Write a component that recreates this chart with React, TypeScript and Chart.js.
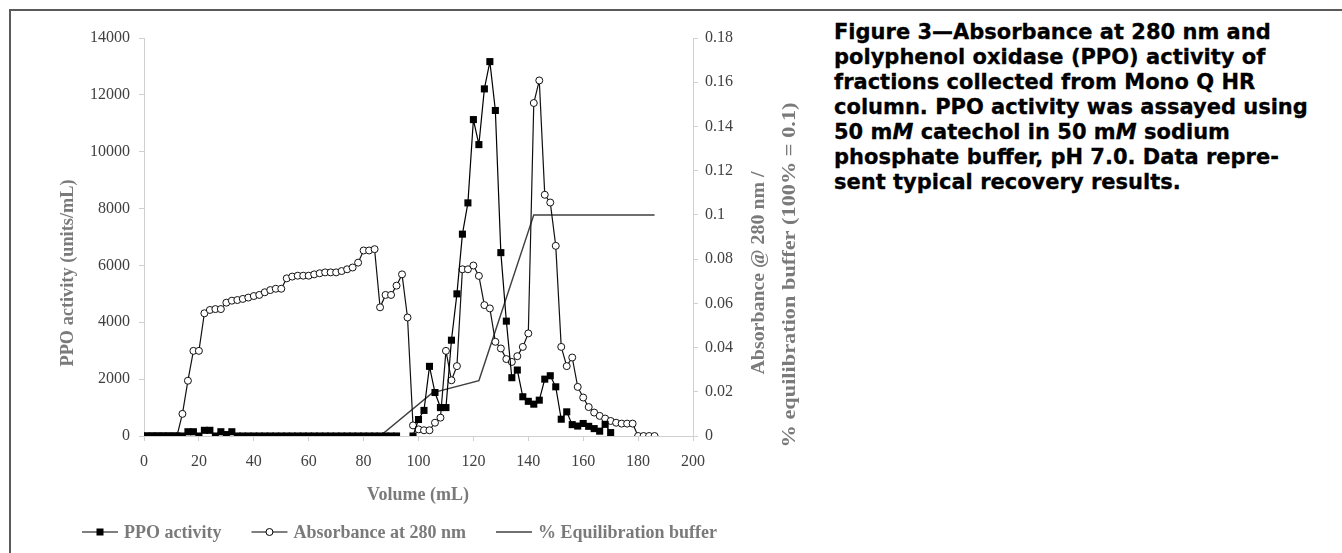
import React, { useEffect, useRef } from "react";
import { Chart, registerables } from "chart.js";

Chart.register(...registerables);

// ---- Data ----
const ppoVolume = [
  0, 2, 4, 6, 8, 10, 12, 14, 16, 18, 20, 22, 24, 26, 28, 30, 32, 34, 36, 38, 40, 42, 44, 46,
  48, 50, 52, 54, 56, 58, 60, 62, 64, 66, 68, 70, 72, 74, 76, 78, 80, 82, 84, 86, 88, 90, 92,
  94, 96,
  98, 100, 102, 104, 106, 108, 110, 112, 114, 116, 118, 120, 122, 124, 126, 128, 130, 132,
  134, 136, 138, 140, 142, 144, 146, 148, 150, 152, 154, 156, 158, 160, 162, 164, 166, 168, 170,
];
const ppoActivity = [
  0, 0, 0, 0, 0, 0, 0, 0, 150, 150, 0, 200, 200, 0, 150, 50, 150, 0, 0, 0, 0, 0, 0, 0,
  0, 0, 0, 0, 0, 0, 0, 0, 0, 0, 0, 0, 0, 0, 0, 0, 0, 0, 0, 0, 0, 0, 0,
  null, null,
  0, 580, 900, 2450, 1530, 1000, 1000, 3370, 5000, 7100, 8200, 11130, 10250, 12210, 13170, 11450,
  6450, 4040, 2050, 2320, 1380, 1220, 1120, 1260, 2000, 2120, 1730, 590, 850, 400, 350, 440,
  340, 260, 170, 410, 120,
];

const absVolume = [
  0, 2, 4, 6, 8, 10, 12, 14, 16, 18, 20, 22, 24, 26, 28, 30, 32, 34, 36, 38, 40, 42, 44, 46,
  48, 50, 52, 54, 56, 58, 60, 62, 64, 66, 68, 70, 72, 74, 76, 78, 80, 82, 84, 86, 88, 90, 92,
  94, 96, 98, 100, 102, 104, 106, 108, 110, 112, 114, 116, 118, 120, 122, 124, 126, 128, 130,
  132, 134, 136, 138, 140, 142, 144, 146, 148, 150, 152, 154, 156, 158, 160, 162, 164, 166,
  168, 170, 172, 174, 176, 178, 180, 182, 184, 186,
];
const absorbance = [
  0, 0, 0, 0, 0, 0, 0, 0.010, 0.025, 0.0385, 0.0385, 0.0555, 0.057, 0.0574, 0.0574, 0.0603,
  0.0612, 0.0615, 0.062, 0.0626, 0.0633, 0.0638, 0.065, 0.066, 0.0666, 0.0666, 0.0713, 0.0721,
  0.0725, 0.0725, 0.0725, 0.0731, 0.0736, 0.074, 0.074, 0.074, 0.0746, 0.0754, 0.0762, 0.0784,
  0.0839, 0.0839, 0.0845, 0.0582, 0.0638, 0.0638, 0.068, 0.0731, 0.0536, 0.0048, 0.003, 0.0026,
  0.0026, 0.006, 0.0083, 0.0385, 0.0252, 0.0316, 0.0754, 0.0754, 0.0771, 0.0724, 0.0592, 0.0577,
  0.0426, 0.0396, 0.0348, 0.0335, 0.0361, 0.0403, 0.0464, 0.1506, 0.1608, 0.1091, 0.1056, 0.086,
  0.0403, 0.0316, 0.0355, 0.0222, 0.0174, 0.0131, 0.0106, 0.0091, 0.0079, 0.0068, 0.006, 0.0056,
  0.0056, 0.0056, 0, 0, 0, 0,
];

const bufferVolume = [86, 105, 122, 142, 186];
const bufferLevel = [0, 0.0195, 0.025, 0.1, 0.1];

const leftTitle = "PPO activity (units/mL)";
const rightTitle1 = "Absorbance @ 280 nm /";
const rightTitle2 = "% equilibration buffer (100% = 0.1)";
const xTitle = "Volume (mL)";
const legendLabels = ["PPO activity", "Absorbance at 280 nm", "% Equilibration buffer"];

const W = 800;
const H = 553;
const SERIF = '"Liberation Serif", "Times New Roman", serif';

export default function App() {
  const ref = useRef<HTMLCanvasElement>(null);

  useEffect(() => {
    const canvas = ref.current;
    if (!canvas) return;
    const pts = (xs: number[], ys: (number | null)[]) => xs.map((x, i) => ({ x, y: ys[i] }));

    const annot = {
      id: "annot",
      afterDraw(chart: any) {
        const c = chart.ctx as CanvasRenderingContext2D;
        c.save();
        c.fillStyle = "#7a7a7a";
        c.textAlign = "center";
        c.textBaseline = "middle";
        const rot = (t: string, x: number, y: number, len: number) => {
          c.save();
          c.translate(x, y);
          c.rotate(-Math.PI / 2);
          const w = c.measureText(t).width;
          c.scale(len / w, 1);
          c.fillText(t, 0, 0);
          c.restore();
        };
        c.font = `bold 19px ${SERIF}`;
        rot(leftTitle, 68, 273, 187);
        rot(rightTitle1, 759, 273, 203);
        rot(rightTitle2, 790, 275, 345);
        c.font = `bold 18px ${SERIF}`;
        c.fillText(xTitle, 418, 495);

        // legend
        c.font = `bold 18px ${SERIF}`;
        const lineLen = 36;
        const gapText = 6;
        const gapItem = 30;
        let lx = 82;
        const ly = 532;
        legendLabels.forEach((label, i) => {
          c.strokeStyle = i === 2 ? "#404040" : "#000";
          c.lineWidth = i === 2 ? 1.5 : 1.2;
          c.beginPath();
          c.moveTo(lx, ly);
          c.lineTo(lx + lineLen, ly);
          c.stroke();
          const mx = lx + lineLen / 2;
          if (i === 0) {
            c.fillStyle = "#000";
            c.fillRect(mx - 3.5, ly - 3.5, 7, 7);
          } else if (i === 1) {
            c.beginPath();
            c.arc(mx, ly, 3.5, 0, Math.PI * 2);
            c.fillStyle = "#fff";
            c.fill();
            c.lineWidth = 1;
            c.strokeStyle = "#000";
            c.stroke();
          }
          c.fillStyle = "#7a7a7a";
          c.textAlign = "left";
          const tw = c.measureText(label).width;
          c.fillText(label, lx + lineLen + gapText, ly + 1);
          lx += lineLen + gapText + tw + gapItem;
        });
        c.restore();
      },
    };

    const tickFont = { family: SERIF, size: 16 };
    const axisGrid = { display: true, drawOnChartArea: false, drawTicks: true, tickLength: 5, color: "#d0d0d0" };
    const axisBorder = { display: true, color: "#d0d0d0", width: 1 };

    const chart = new Chart(canvas, {
      type: "line",
      data: {
        datasets: [
          {
            label: legendLabels[0],
            data: pts(ppoVolume, ppoActivity),
            yAxisID: "y",
            borderColor: "#000",
            backgroundColor: "#000",
            borderWidth: 1.2,
            pointStyle: "rect",
            pointRadius: 5,
            pointBackgroundColor: "#000",
            pointBorderColor: "#000",
            pointBorderWidth: 0,
            spanGaps: false,
            tension: 0,
            order: 0,
          },
          {
            label: legendLabels[1],
            data: pts(absVolume, absorbance),
            yAxisID: "y1",
            borderColor: "#111",
            backgroundColor: "#fff",
            borderWidth: 1.2,
            pointStyle: "circle",
            pointRadius: 3.5,
            pointBackgroundColor: "#fff",
            pointBorderColor: "#111",
            pointBorderWidth: 1,
            tension: 0,
            order: 1,
          },
          {
            label: legendLabels[2],
            data: pts(bufferVolume, bufferLevel),
            yAxisID: "y1",
            borderColor: "#404040",
            borderWidth: 1.5,
            pointRadius: 0,
            tension: 0,
            order: 2,
          },
        ],
      },
      options: {
        responsive: false,
        animation: false,
        layout: { padding: { top: 38, left: 0, right: 0, bottom: 0 } },
        plugins: { legend: { display: false }, tooltip: { enabled: false }, title: { display: false } },
        scales: {
          x: {
            type: "linear",
            min: 0,
            max: 200,
            ticks: { stepSize: 20, font: tickFont, color: "#404040", padding: 11, maxRotation: 0, callback: (v: any) => String(v) },
            grid: axisGrid,
            border: axisBorder,
            afterFit: (s: any) => {
              s.height = 117;
            },
          },
          y: {
            position: "left",
            min: 0,
            max: 14000,
            ticks: { stepSize: 2000, font: tickFont, color: "#404040", padding: 9, callback: (v: any) => String(v) },
            grid: axisGrid,
            border: axisBorder,
            afterFit: (s: any) => {
              s.width = 144;
            },
          },
          y1: {
            position: "right",
            min: 0,
            max: 0.18,
            ticks: {
              stepSize: 0.02,
              font: tickFont,
              color: "#404040",
              padding: 7,
              callback: (v: any) => String(Number(Number(v).toFixed(2))),
            },
            grid: axisGrid,
            border: axisBorder,
            afterFit: (s: any) => {
              s.width = W - 693;
            },
          },
        },
      },
      plugins: [annot],
    } as any);

    return () => chart.destroy();
  }, []);

  const capLine: React.CSSProperties = { whiteSpace: "nowrap", height: 25, lineHeight: "25px" };

  return (
    <div style={{ position: "absolute", left: 0, top: 0, width: 1342, height: 553, background: "#fff", overflow: "hidden" }}>
      <div style={{ position: "absolute", left: 9, top: 9, width: 1333, height: 2, background: "#5a5a5a" }} />
      <div style={{ position: "absolute", left: 9, top: 9, width: 2, height: 544, background: "#5a5a5a" }} />
      <canvas ref={ref} width={W} height={H} style={{ position: "absolute", left: 0, top: 0, width: W, height: H }} />
      <div
        style={{
          position: "absolute",
          left: 834,
          top: 20,
          fontFamily: '"DejaVu Sans", "Liberation Sans", sans-serif',
          fontWeight: 700,
          fontSize: 21,
          color: "#000",
          WebkitTextStroke: "0.3px #000",
        }}
      >
        <div style={capLine}>Figure 3—Absorbance at 280 nm and</div>
        <div style={capLine}>polyphenol oxidase (PPO) activity of</div>
        <div style={capLine}>fractions collected from Mono Q HR</div>
        <div style={capLine}>column. PPO activity was assayed using</div>
        <div style={capLine}>
          50 m<i>M</i> catechol in 50 m<i>M</i> sodium
        </div>
        <div style={capLine}>phosphate buffer, pH 7.0. Data repre-</div>
        <div style={capLine}>sent typical recovery results.</div>
      </div>
    </div>
  );
}
